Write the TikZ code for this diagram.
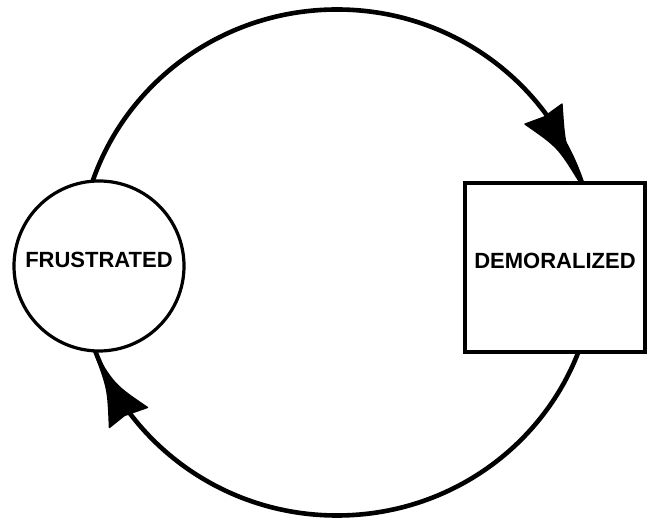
\documentclass[tikz,border=0pt]{standalone}
\usepackage{fontspec}
\setmainfont{Liberation Sans}
\usetikzlibrary{calc}
\begin{document}
\begin{tikzpicture}[x=1pt,y=1pt,
  lbl/.style={font=\fontsize{22}{26}\selectfont\bfseries, inner sep=0pt, fill=white, draw=black},
  loopline/.style={line width=4.6pt},
  headfill/.style={fill=black, draw=black, line width=1.4pt, line join=round}]
\useasboundingbox (0,0) rectangle (651,519);
% cycle loop
\coordinate (C) at (337,256.5);
\draw[loopline] (C) ellipse [x radius=258, y radius=253];
% states
\node[lbl, circle, line width=3.2pt, minimum size=170pt, text depth=12pt] (F) at (99,253) {FRUSTRATED};
\node[lbl, rectangle, line width=3.8pt, minimum width=180pt, minimum height=169pt, text depth=13pt] (D) at (555,251.5) {DEMORALIZED};
% arrow heads
\coordinate (T1) at ($(D.north)+(24,0)$);
\coordinate (T2) at (F.-93);
\begin{scope}[shift={(T1)}]
  \filldraw[headfill] (0,0) .. controls (-21,34) .. (-54,57) -- (-35,64) -- (-17,77) .. controls (-14.4,37.2) .. (0,0) -- cycle;
\end{scope}
\begin{scope}[shift={(T2)}]
  \filldraw[headfill] (0,0) .. controls (20.7,-33) .. (53,-55) -- (30,-63) -- (15,-75) .. controls (13.4,-36.3) .. (0,0) -- cycle;
\end{scope}
\end{tikzpicture}
\end{document}
